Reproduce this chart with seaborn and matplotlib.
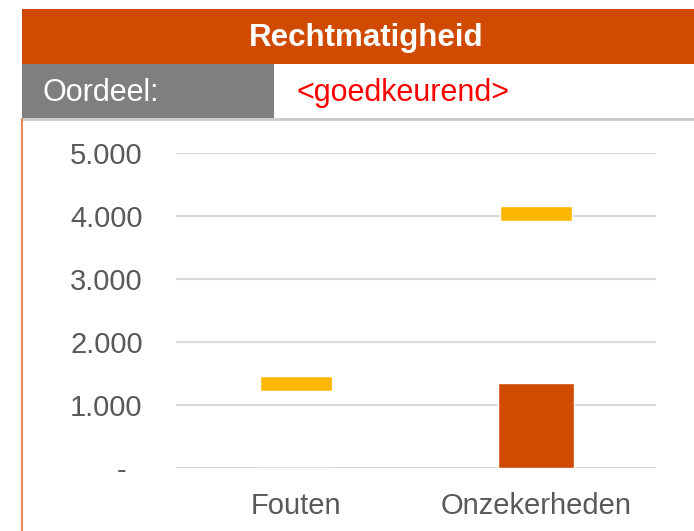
import pandas as pd
import numpy as np
import matplotlib
matplotlib.use("Agg")
import matplotlib.pyplot as plt
from matplotlib.patches import Rectangle
from matplotlib.lines import Line2D
import seaborn as sns

categorieen = ['Fouten', 'Onzekerheden']
bedragen = [0, 1350]
grens_midden = [1340, 4040]
y_ticks = [0, 1000, 2000, 3000, 4000, 5000]

titel = 'Rechtmatigheid'
oordeel_label = 'Oordeel:'
oordeel_waarde = '<goedkeurend>'

ORANJE = '#D04A02'
GEEL = '#FFB600'
GRIJS = '#7F7F7F'

sns.set_theme(style="whitegrid")
plt.rcParams['font.family'] = ['Liberation Sans', 'DejaVu Sans']

fig = plt.figure(figsize=(6.94, 5.31), dpi=100)
ax = fig.add_axes([176 / 694, 63 / 531, 480 / 694, 315 / 531])

df = pd.DataFrame({'categorie': categorieen, 'bedrag': bedragen})
sns.barplot(data=df, x='categorie', y='bedrag', color=ORANJE, saturation=1,
            width=0.317, ax=ax)

# tolerantie-markering als zwevend balkje
dikte = 240
ax.bar(np.arange(len(categorieen)), [dikte] * len(categorieen),
       bottom=np.array(grens_midden) - dikte / 2, width=0.3, color=GEEL, zorder=3)

ax.set_ylim(0, 5000)
ax.set_xlim(-0.5, 1.5)
ax.set_yticks(y_ticks)
# boekhoudnotatie: nul als streepje, iets naar links
ax.set_yticklabels(['-  ' if v == 0 else '{:,.0f}'.format(v).replace(',', '.') for v in y_ticks])
ax.set_xlabel('')
ax.set_ylabel('')
ax.grid(axis='x', visible=False)
ax.grid(axis='y', color='#D9D9D9', linewidth=1.5)
ax.set_axisbelow(True)
for s in ax.spines.values():
    s.set_visible(False)
ax.tick_params(axis='y', length=0, pad=24, labelsize=21, labelcolor='#595959')
ax.tick_params(axis='x', length=0, pad=17, labelsize=21, labelcolor='#595959')

# kopregel
fig.patches.append(Rectangle((21.5 / 694, 1 - 64 / 531), (694 - 21.5) / 694, 55.5 / 531,
                             transform=fig.transFigure, facecolor=ORANJE, edgecolor='none'))
fig.patches.append(Rectangle((21.5 / 694, 1 - 118 / 531), (274 - 21.5) / 694, 54 / 531,
                             transform=fig.transFigure, facecolor=GRIJS, edgecolor='none'))
fig.lines.append(Line2D([21.5 / 694, 1], [1 - 119 / 531, 1 - 119 / 531],
                        transform=fig.transFigure, color='#C8C8C8', linewidth=2))
fig.lines.append(Line2D([22 / 694, 22 / 694], [0, 1 - 119 / 531],
                        transform=fig.transFigure, color='#E8875A', linewidth=1.5))

fig.text(366 / 694, 1 - 38 / 531, titel, color='white', fontsize=22.5, fontweight='bold',
         ha='center', va='center')
fig.text(42 / 694, 1 - 93 / 531, oordeel_label, color='white', fontsize=22,
         ha='left', va='center')
fig.text(296 / 694, 1 - 93 / 531, oordeel_waarde, color='#FF0000', fontsize=22,
         ha='left', va='center')

fig.savefig('out.png', dpi=100, facecolor='white')
